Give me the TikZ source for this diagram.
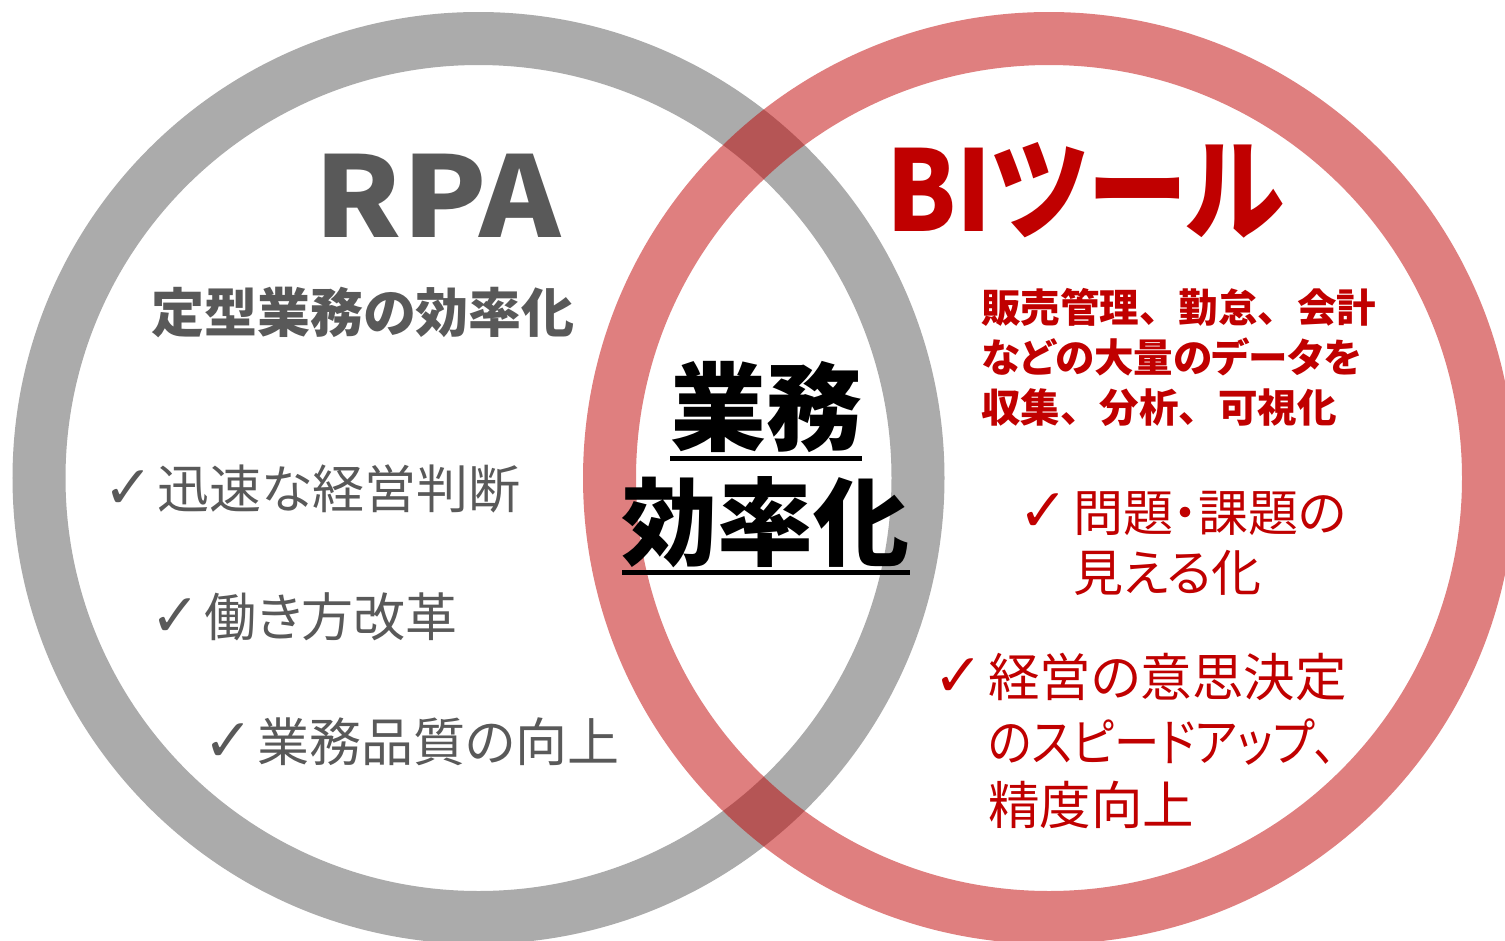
\documentclass[tikz,border=0pt]{standalone}
\usepackage{fontspec}
\newfontfamily\jp{Noto Sans CJK JP}[RawFeature={+palt}]
\newfontfamily\jpfw{Noto Sans CJK JP}
\newfontfamily\sym{DejaVu Sans}
\newcommand{\chk}{{\sym\fontsize{60}{60}\selectfont ✓}}
\definecolor{ringgray}{HTML}{ABABAB}
\definecolor{txtgray}{HTML}{595959}
\definecolor{bired}{HTML}{C00000}
\tikzset{
  ring/.style={line width=53pt},
  lbl/.style={inner sep=0pt, anchor=base west},
  big/.style={lbl, font={\jp\bfseries\fontsize{112}{120}\selectfont}},
  subtitle/.style={lbl, font={\jp\bfseries\fontsize{53}{60}\selectfont}},
  grayitem/.style={lbl, text=txtgray, font={\jp\fontsize{52}{60}\selectfont}},
  centertxt/.style={inner sep=0pt, anchor=base, font={\jp\bfseries\fontsize{96}{100}\selectfont}},
  desc/.style={lbl, text=bired, font={\jpfw\bfseries\fontsize{39.5}{50}\selectfont}},
  descp/.style={lbl, text=bired, font={\jp\bfseries\fontsize{39.5}{50}\selectfont}},
  reditem/.style={lbl, text=bired, font={\jp\fontsize{50}{60}\selectfont}},
  reditemb/.style={lbl, text=bired, font={\jp\fontsize{51.5}{60}\selectfont}},
  ul/.style={line width=5pt}
}
\begin{document}
\begin{tikzpicture}[x=1pt,y=-1pt]
\useasboundingbox (0,0) rectangle (1505,940);
\clip (0,0) rectangle (1505,940);
\fill[white] (0,0) rectangle (1505,940);
% rings
\draw[ring, ringgray] (478.5,478) circle[radius=439.5pt];
\draw[ring, bired, opacity=0.5] (1049,478) circle[radius=439.5pt];
% RPA side
\node[big, text=txtgray, anchor=base] (rpa) at (438,237) {\scalebox{1.1}[1]{RPA}};
\node[subtitle, text=txtgray] (rpasub) at (151,332) {定型業務の効率化};
\node[grayitem] (g1) at (103,508) {\chk\hspace{4pt}迅速な経営判断};
\node[grayitem] (g2) at (150,636) {\chk\hspace{4pt}働き方改革};
\node[grayitem] (g3) at (203,761) {\chk\hspace{4pt}業務品質の向上};
% centre
\node[centertxt] (c1) at (766,443) {業務};
\node[centertxt] (c2) at (765,558) {効率化};
\draw[ul] (670,458) -- (862,458);
\draw[ul] (622,572) -- (910,572);
% BI side
\node[big, text=bired] (bi) at (886,231) {\scalebox{0.9}[1]{BIツール}};
\node[desc] (d1) at (981,322) {販売管理、勤怠、会計};
\node[descp] (d2) at (981,372) {などの大量のデータを};
\node[desc] (d3) at (981,422) {収集、分析、可視化};
\node[reditem] (r1chk) at (1018,531) {\chk};
\node[reditem] (r1a) at (1073,531) {問題・課題の};
\node[reditem] (r1b) at (1073,591) {見える化};
\node[reditem] (r2chk) at (933,696) {\chk};
\node[reditemb] (r2a) at (988,696) {経営の意思決定};
\node[reditemb] (r2b) at (988,761) {\scalebox{0.88}[1]{のスピードアップ、}};
\node[reditemb] (r2c) at (988,824) {精度向上};
\end{tikzpicture}
\end{document}
